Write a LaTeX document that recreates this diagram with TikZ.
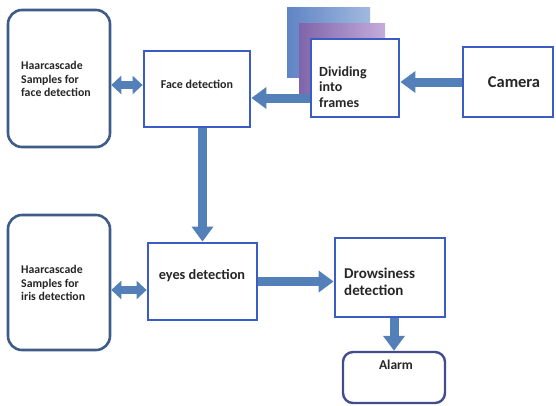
\documentclass[tikz,border=0pt]{standalone}
\usepackage{fontspec}
\setmainfont{Carlito}
\usetikzlibrary{arrows.meta,calc}
\definecolor{boxblue}{RGB}{58,92,196}
\definecolor{haarblue}{RGB}{62,92,135}
\definecolor{alarmblue}{RGB}{66,76,140}
\definecolor{arrblue}{RGB}{84,128,186}
\definecolor{frameA}{RGB}{96,132,196}
\definecolor{frameB}{RGB}{160,186,222}
\definecolor{purA}{RGB}{128,100,170}
\definecolor{purB}{RGB}{196,172,220}
\tikzset{
  haarbox/.style={draw=haarblue, line width=2.6pt, rounded corners=14pt, fill=white, inner sep=0pt},
  sqbox/.style={draw=boxblue, line width=2.8pt, fill=white, inner sep=0pt},
  alarmbox/.style={draw=alarmblue, line width=2.4pt, rounded corners=10pt, fill=white, inner sep=0pt},
  txt/.style={font=\bfseries\fontsize{11.8}{13.8}\selectfont, inner sep=0pt, align=left, text=black!85},
  midtxt/.style={font=\bfseries\fontsize{12}{14}\selectfont, inner sep=0pt, align=left, text=black!85},
  bigtxt/.style={font=\bfseries\fontsize{14}{16}\selectfont, inner sep=0pt, align=left, text=black!85},
  flow/.style={draw=arrblue, line width=9pt, -{Triangle[width=21pt,length=15pt]}},
  dflow/.style={draw=arrblue, line width=8pt, {Triangle[width=18pt,length=10pt]}-{Triangle[width=18pt,length=10pt]}}
}
\begin{document}
\begin{tikzpicture}[x=1pt,y=-1pt]
\useasboundingbox (0,0) rectangle (556,405);
% frames stack
\shade[left color=frameA, right color=frameB] (287,7) rectangle (370,77);
\shade[left color=purA, right color=purB] (299,23) rectangle (385,93);
% boxes
\node[haarbox, minimum width=102pt, minimum height=137pt] (haarF) at (59,78.5) {};
\node[sqbox, minimum width=106pt, minimum height=76pt] (face) at (197,89) {};
\node[sqbox, minimum width=88pt, minimum height=78pt] (div) at (355,78) {};
\node[sqbox, minimum width=90pt, minimum height=70pt] (camera) at (508,82) {};
\node[haarbox, minimum width=102pt, minimum height=135pt] (haarI) at (59,282.5) {};
\node[sqbox, minimum width=109pt, minimum height=77pt] (eyes) at (202.5,281.5) {};
\node[sqbox, minimum width=110pt, minimum height=79pt] (drow) at (390,277.5) {};
\node[alarmbox, minimum width=102pt, minimum height=51pt] (alarm) at (394,377.5) {};
% texts
\node[txt, anchor=west] (haarFt) at (21,79) {Haarcascade\\Samples for\\face detection};
\node[midtxt] (facet) at (197,84) {Face detection};
\node[bigtxt, anchor=west, font=\bfseries\fontsize{14}{15.5}\selectfont] (divt) at (319,87) {Dividing\\into\\frames};
\node[bigtxt, font=\bfseries\fontsize{16.5}{18}\selectfont] (camt) at (514,82) {Camera};
\node[txt, anchor=west] (haarIt) at (21,283) {Haarcascade\\Samples for\\iris detection};
\node[bigtxt, font=\bfseries\fontsize{14.3}{16}\selectfont] (eyest) at (202,276) {eyes detection};
\node[bigtxt, anchor=west, font=\bfseries\fontsize{15}{17}\selectfont] (drowt) at (344,281.5) {Drowsiness\\detection};
\node[midtxt, font=\bfseries\fontsize{13.5}{15}\selectfont] (alarmt) at (396,365) {Alarm};
% connectors
\draw[dflow] ([yshift=4pt]face.west -| haarF.east) -- ([yshift=4pt]face.west);
\draw[flow] (camera.west) -- (camera.west -| div.east);
\draw[flow] ([yshift=-20pt]div.west) -- ([yshift=-20pt]div.west -| face.east);
\draw[flow] (face.south -| eyes.north) -- (eyes.north);
\draw[dflow] ([yshift=-8.5pt]eyes.west -| haarI.east) -- ([yshift=-8.5pt]eyes.west);
\draw[flow] (eyes.east) -- (eyes.east -| drow.west);
\draw[flow] (drow.south -| alarm.north) -- (alarm.north);
\end{tikzpicture}
\end{document}
